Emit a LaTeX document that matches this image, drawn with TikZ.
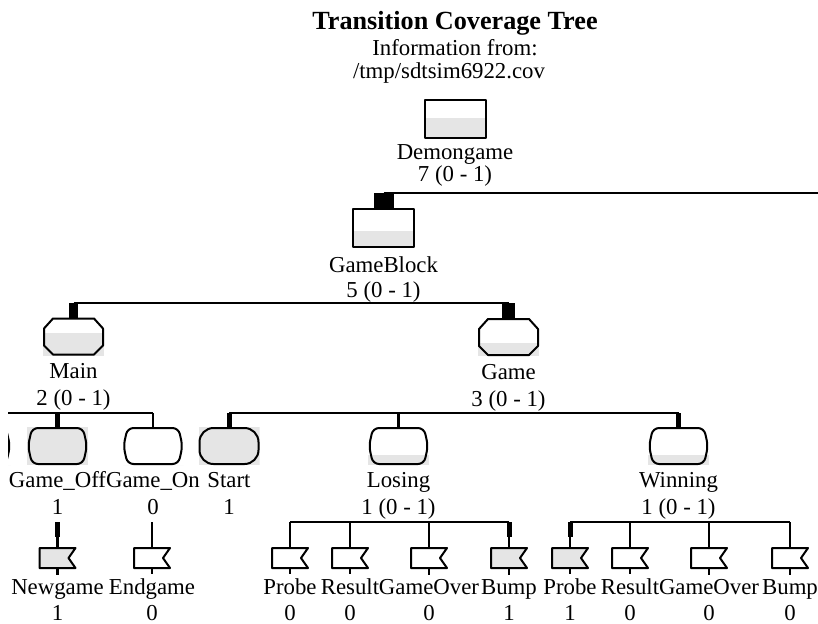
\documentclass[tikz,border=0pt]{standalone}
\usepackage{fontspec}
\setmainfont{Liberation Serif}
\definecolor{cov}{gray}{0.9}
\newcommand{\ppb}{path picture bounding box}
\tikzset{
	link/.style={line width=1.25pt},
	hit/.style={line width=#1},
	boxline/.style={draw=black,line width=1pt},
	unit/.style={inner sep=0pt,outer sep=0pt,minimum width=30.5pt,minimum height=19pt},
	blockbox/.style={unit,boxline,path picture={
		\fill[cov] (\ppb.south west) rectangle ([yshift=#1]\ppb.south east);}},
	procbox/.style={unit,path picture={
		\fill[cov] (\ppb.south west) rectangle ([yshift=#1]\ppb.south east);
		\draw[boxline] ([xshift=5pt,yshift=-.5pt]\ppb.north west) -- ([xshift=-5pt,yshift=-.5pt]\ppb.north east)
			-- ([xshift=-.5pt,yshift=-5.5pt]\ppb.north east) -- ([xshift=-.5pt,yshift=5pt]\ppb.south east)
			-- ([xshift=-5pt,yshift=.5pt]\ppb.south east) -- ([xshift=5pt,yshift=.5pt]\ppb.south west)
			-- ([xshift=.5pt,yshift=5pt]\ppb.south west) -- ([xshift=.5pt,yshift=-5.5pt]\ppb.north west) -- cycle;}},
	statebox/.style={unit,path picture={
		\fill[cov] (\ppb.south west) rectangle ([yshift=#1]\ppb.south east);
		\draw[boxline,rounded corners=3pt] ([xshift=2.5pt,yshift=-.5pt]\ppb.north west) -- ([xshift=-2.5pt,yshift=-.5pt]\ppb.north east)
			-- ([xshift=-.5pt]\ppb.east) -- ([xshift=-2.5pt,yshift=.5pt]\ppb.south east)
			-- ([xshift=2.5pt,yshift=.5pt]\ppb.south west) -- ([xshift=.5pt]\ppb.west) -- cycle;}},
	startbox/.style={unit,path picture={
		\fill[cov] (\ppb.south west) rectangle (\ppb.north east);
		\draw[boxline,rounded corners=7pt] ([xshift=.5pt,yshift=-.5pt]\ppb.north west) rectangle ([xshift=-.5pt,yshift=.5pt]\ppb.south east);}},
	sigbox/.style={inner sep=0pt,outer sep=0pt,minimum width=19pt,minimum height=11pt,path picture={
		\filldraw[boxline,fill=#1] ([xshift=.5pt,yshift=-.5pt]\ppb.north west) -- ([xshift=-.5pt,yshift=-.5pt]\ppb.north east)
			-- ([xshift=-4pt]\ppb.east) -- ([xshift=-.5pt,yshift=.5pt]\ppb.south east)
			-- ([xshift=.5pt,yshift=.5pt]\ppb.south west) -- cycle;}},
	lbl/.style={font=\fontsize{11.4}{13}\selectfont,inner sep=0pt,anchor=base},
}
\begin{document}
\begin{tikzpicture}[x=0.5pt,y=-0.5pt,line join=round]
	\useasboundingbox (0,0) rectangle (818,623);
	\clip (8,0) rectangle (818,623);
	% heading
	\node[lbl,font=\fontsize{13.1}{15}\selectfont\bfseries] (title) at (455,29.5) {Transition Coverage Tree};
	\node[lbl] (info) at (455,55.5) {Information from:};
	\node[lbl] (src) at (449,78.5) {/tmp/sdtsim6922.cov};
	% system and block
	\node[blockbox=10pt] (demongame) at (455,119) {};
	\node[lbl] (demongame-n) at ([yshift=-10.5pt]demongame.south) {Demongame};
	\node[lbl] (demongame-c) at ([yshift=-11pt]demongame-n.base) {7 (0 - 1)};
	\node[blockbox=8pt] (gameblock) at (383.5,228) {};
	\node[lbl] (gameblock-n) at ([yshift=-12.5pt]gameblock.south) {GameBlock};
	\node[lbl] (gameblock-c) at ([yshift=-12.5pt]gameblock-n.base) {5 (0 - 1)};
	% processes
	\node[procbox=11.5pt] (main) at (73.5,336.5) {};
	\node[lbl] (main-n) at ([yshift=-11.5pt]main.south) {Main};
	\node[lbl] (main-c) at ([yshift=-13.5pt]main-n.base) {2 (0 - 1)};
	\node[procbox=6.5pt] (game) at (508.5,337) {};
	\node[lbl] (game-n) at ([yshift=-11.5pt]game.south) {Game};
	\node[lbl] (game-c) at ([yshift=-13.5pt]game-n.base) {3 (0 - 1)};
	% states
	\node[statebox=0pt] (prev) at (-19.5,446) {};
	\node[statebox=20pt] (gameoff) at (57.5,446) {};
	\node[lbl] (gameoff-n) at ([yshift=-11pt]gameoff.south) {Game\_Off};
	\node[lbl] (gameoff-c) at ([yshift=-13.5pt]gameoff-n.base) {1};
	\node[statebox=0pt] (gameon) at (153,446) {};
	\node[lbl] (gameon-n) at ([yshift=-11pt]gameon.south) {Game\_On};
	\node[lbl] (gameon-c) at ([yshift=-13.5pt]gameon-n.base) {0};
	\node[startbox] (start) at (229,446) {};
	\node[lbl] (start-n) at ([yshift=-11pt]start.south) {Start};
	\node[lbl] (start-c) at ([yshift=-13.5pt]start-n.base) {1};
	\node[statebox=5pt] (losing) at (398.5,446) {};
	\node[lbl] (losing-n) at ([yshift=-11pt]losing.south) {Losing};
	\node[lbl] (losing-c) at ([yshift=-13.5pt]losing-n.base) {1 (0 - 1)};
	\node[statebox=5pt] (winning) at (678.5,446) {};
	\node[lbl] (winning-n) at ([yshift=-11pt]winning.south) {Winning};
	\node[lbl] (winning-c) at ([yshift=-13.5pt]winning-n.base) {1 (0 - 1)};
	% inputs
	\node[sigbox=cov] (newgame) at (57.5,558) {};
	\node[sigbox=white] (endgame) at (152,558) {};
	\node[sigbox=white] (probeL) at (290,558) {};
	\node[sigbox=white] (resultL) at (350,558) {};
	\node[sigbox=white] (overL) at (429,558) {};
	\node[sigbox=cov] (bumpL) at (509,558) {};
	\node[sigbox=cov] (probeW) at (570,558) {};
	\node[sigbox=white] (resultW) at (630,558) {};
	\node[sigbox=white] (overW) at (709,558) {};
	\node[sigbox=white] (bumpW) at (790,558) {};
	\foreach \s/\nm/\ct in {newgame/Newgame/1,endgame/Endgame/0,probeL/Probe/0,resultL/Result/0,overL/GameOver/0,
		bumpL/Bump/1,probeW/Probe/1,resultW/Result/0,overW/GameOver/0,bumpW/Bump/0}{
		\node[lbl] (\s-n) at ([yshift=-12.5pt]\s.south) {\nm};
		\node[lbl] (\s-c) at ([yshift=-13pt]\s-n.base) {\ct};
		\draw[link,shorten >=2pt] (\s.south) -- (\s-n.north);
	}
	% buses and stubs
	\coordinate (busD) at (0,193);
	\coordinate (busDend) at (840,193);
	\draw[link] (gameblock.north |- busD) -- (busDend);
	\draw[hit=10pt] (gameblock.north |- busD) -- (gameblock.north);
	\coordinate (busGB) at (0,303);
	\draw[link] (main.north |- busGB) -- (game.north |- busGB);
	\draw[hit=4.5pt] (main.north |- busGB) -- (main.north);
	\draw[hit=6.5pt] (game.north |- busGB) -- (game.north);
	\coordinate (busM) at (0,413);
	\draw[link] (prev.north |- busM) -- (gameon.north |- busM);
	\draw[hit=2.5pt] (gameoff.north |- busM) -- (gameoff.north);
	\draw[link] (gameon.north |- busM) -- (gameon.north);
	\coordinate (busG) at (0,413);
	\draw[link] (start.north |- busG) -- (winning.north |- busG);
	\draw[hit=2.5pt] (start.north |- busG) -- (start.north);
	\draw[link] (losing.north |- busG) -- (losing.north);
	\draw[hit=2.5pt] (winning.north |- busG) -- (winning.north);
	\coordinate (busS) at (0,522);
	\draw[link] (probeL.north |- busS) -- (bumpL.north |- busS);
	\draw[link] (probeW.north |- busS) -- (bumpW.north |- busS);
	\foreach \s in {newgame,endgame,probeL,resultL,overL,bumpL,probeW,resultW,overW,bumpW}
		\draw[link] (\s.north |- busS) -- (\s.north);
	\foreach \s in {newgame,bumpL,probeW}
		\draw[hit=2.5pt,shorten >=5pt] (\s.north |- busS) -- (\s.north);
\end{tikzpicture}
\end{document}
